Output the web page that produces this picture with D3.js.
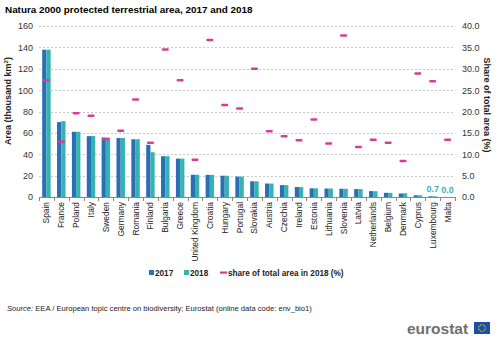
<!DOCTYPE html>
<html><head><meta charset="utf-8">
<script src="https://cdn.jsdelivr.net/npm/d3@7"></script>
<style>body{margin:0;background:#fff;font-family:"Liberation Sans",Arial,sans-serif}</style>
</head><body><svg id="c" width="500" height="345"></svg>
<script>
const countries = ["Spain","France","Poland","Italy","Sweden","Germany","Romania","Finland","Bulgaria","Greece","United Kingdom","Croatia","Hungary","Portugal","Slovakia","Austria","Czechia","Ireland","Estonia","Lithuania","Slovenia","Latvia","Netherlands","Belgium","Denmark","Cyprus","Luxembourg","Malta"];
const area2017 = [137.8,70.1,61.0,56.9,55.7,55.2,54.0,48.8,38.2,35.9,20.8,20.7,19.9,19.1,14.7,12.6,11.1,9.3,8.1,7.9,7.7,7.4,5.5,3.9,3.3,1.6,0.7,0.04];
const area2018 = [137.8,71.0,61.0,57.1,55.6,55.2,54.0,41.9,38.2,35.9,20.8,20.7,19.9,19.1,14.7,12.6,11.1,9.3,8.1,7.9,7.7,7.4,5.4,3.9,3.5,1.6,0.7,0.04];
const share2018 = [27.3,12.9,19.6,19.0,13.5,15.5,22.8,12.7,34.5,27.3,8.7,36.7,21.5,20.7,30.0,15.4,14.2,13.3,18.1,12.5,37.8,11.7,13.4,12.7,8.4,28.9,27.1,13.4];
const leftTicks = [0,20,40,60,80,100,120,140,160];
const rightTicks = [0,5,10,15,20,25,30,35,40];
const labelled = ["Luxembourg","Malta"];

const C17 = "#2A6EB5", C18 = "#35B3B0", CP = "#D63D98";
const svg = d3.select("#c");
const L = 39, R = 455, T = 26, B = 197;

const x = d3.scaleBand().domain(countries).range([L, R]).paddingInner(0.43).paddingOuter(0.215);
const xb = d3.scaleBand().domain(countries).range([L, R]);
const y = d3.scaleLinear().domain([0,160]).range([B, T]);
const y2 = d3.scaleLinear().domain([0,40]).range([B, T]);

// title
svg.append("text").attr("x",5).attr("y",13).attr("font-size",9.9).attr("font-weight","bold").attr("fill","#000")
  .text("Natura 2000 protected terrestrial area, 2017 and 2018");

// grid
svg.append("g").selectAll("line").data(leftTicks.filter(d=>d>0)).join("line")
  .attr("x1",L).attr("x2",R).attr("y1",d=>Math.round(y(d))+0.5).attr("y2",d=>Math.round(y(d))+0.5)
  .attr("stroke","#c8c8c8").attr("stroke-dasharray","2,2").attr("stroke-width",1);

// left axis
const ya = svg.append("g").attr("transform",`translate(${L},0)`)
  .call(d3.axisLeft(y).tickValues(leftTicks).tickSize(0).tickPadding(6));
ya.select(".domain").remove();
ya.selectAll("text").attr("font-size",9).attr("fill","#333").attr("font-family","Liberation Sans, Arial");

// right axis
const ya2 = svg.append("g").attr("transform",`translate(${R},0)`)
  .call(d3.axisRight(y2).tickValues(rightTicks).tickFormat(d3.format(".1f")).tickSize(0).tickPadding(7));
ya2.select(".domain").remove();
ya2.selectAll("text").attr("font-size",9).attr("fill","#333").attr("font-family","Liberation Sans, Arial");

// bars
const g = svg.append("g");
const half = x.bandwidth()/2;
g.selectAll("rect.a").data(countries).join("rect")
  .attr("x",d=>x(d)).attr("width",half)
  .attr("y",(d,i)=>y(area2017[i])).attr("height",(d,i)=>B-y(area2017[i])).attr("fill",C17);
g.selectAll("rect.b").data(countries).join("rect")
  .attr("x",d=>x(d)+half).attr("width",half)
  .attr("y",(d,i)=>y(area2018[i])).attr("height",(d,i)=>B-y(area2018[i])).attr("fill",C18);

// x axis
const xa = svg.append("g").attr("transform",`translate(0,${B})`)
  .call(d3.axisBottom(xb).tickSize(0).tickPadding(5));
xa.select(".domain").attr("stroke","#888");
xa.selectAll("text").attr("font-size",8.4).attr("fill","#222").attr("font-family","Liberation Sans, Arial")
  .attr("transform","rotate(-90)").attr("text-anchor","end").attr("dy","0.35em").attr("y",0).attr("x",-5);
svg.append("g").selectAll("line").data(countries.concat(["__end"])).join("line")
  .attr("x1",(d,i)=>Math.round(L + i*xb.bandwidth())+0.5).attr("x2",(d,i)=>Math.round(L + i*xb.bandwidth())+0.5)
  .attr("y1",B).attr("y2",B+4).attr("stroke","#888");

// share markers
svg.append("g").selectAll("rect").data(countries).join("rect")
  .attr("x",d=>xb(d)+xb.bandwidth()/2-3.5).attr("width",7)
  .attr("y",(d,i)=>y2(share2018[i])-1.25).attr("height",2.5).attr("rx",1).attr("fill",CP);

// value labels
svg.append("g").selectAll("text").data(labelled).join("text")
  .attr("x",d=>xb(d)+xb.bandwidth()/2).attr("y",(d)=>y(area2018[countries.indexOf(d)])-4)
  .attr("text-anchor","middle").attr("font-size",9).attr("font-weight","bold").attr("fill",C18)
  .text(d=>d3.format(".1f")(area2018[countries.indexOf(d)]));

// axis titles
svg.append("text").attr("transform","translate(11,101) rotate(-90)").attr("text-anchor","middle")
  .attr("font-size",9).attr("font-weight","bold").attr("fill","#222")
  .html('Area (thousand km<tspan dy="-3" font-size="6">2</tspan><tspan dy="3">)</tspan>');
svg.append("text").attr("transform","translate(484,105) rotate(90)").attr("text-anchor","middle")
  .attr("font-size",9).attr("font-weight","bold").attr("fill","#222").text("Share of total area (%)");

// legend
const lg = svg.append("g").attr("font-size",8.2).attr("font-weight","bold").attr("fill","#222");
lg.append("rect").attr("x",149).attr("y",270).attr("width",5).attr("height",5).attr("fill",C17);
lg.append("text").attr("x",155).attr("y",276).text("2017");
lg.append("rect").attr("x",184).attr("y",270).attr("width",5).attr("height",5).attr("fill",C18);
lg.append("text").attr("x",190).attr("y",276).text("2018");
lg.append("rect").attr("x",220).attr("y",271.5).attr("width",7).attr("height",2.2).attr("fill",CP);
lg.append("text").attr("x",228).attr("y",276).text("share of total area in 2018 (%)");

// source
const s = svg.append("text").attr("x",7).attr("y",311).attr("font-size",7.6).attr("fill","#222");
s.append("tspan").attr("font-style","italic").text("Source:");
s.append("tspan").text(" EEA / European topic centre on biodiversity; Eurostat (online data code: env_bio1)");

// logo
svg.append("text").attr("x",407).attr("y",334).attr("font-size",15.5).attr("font-weight","bold").attr("fill","#6f6f6f").text("eurostat");
svg.append("rect").attr("x",474).attr("y",322).attr("width",16).attr("height",12).attr("fill","#1f4fa3");
const stars = svg.append("g");
for(let k=0;k<12;k++){ const a=k*Math.PI/6; stars.append("circle").attr("cx",482+3.3*Math.cos(a)).attr("cy",328+3.3*Math.sin(a)).attr("r",0.55).attr("fill","#f5d400"); }
</script></body></html>
